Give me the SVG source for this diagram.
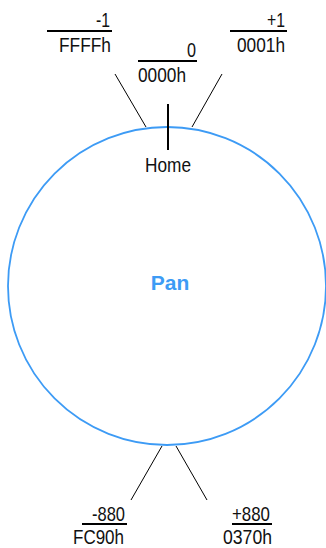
<svg xmlns="http://www.w3.org/2000/svg" width="326" height="548" viewBox="0 0 326 548">
<style>
.t{font-family:"Liberation Sans",Arial,sans-serif;font-size:21px;fill:#111}
.bar{stroke:#000;stroke-width:2}
.lead{stroke:#000;stroke-width:1}
</style>
<rect width="326" height="548" fill="#fff"/>
<g id="pan">
<circle cx="167" cy="286" r="159" fill="none" stroke="#3d9bf5" stroke-width="1.8"/>
<text x="170" y="290" text-anchor="middle" font-family="Liberation Sans,Arial,sans-serif" font-weight="bold" font-size="21" fill="#3d9bf5">Pan</text>
</g>
<g id="home">
<line class="bar" x1="168" y1="104" x2="168" y2="150"/>
<text class="t" x="145" y="172" textLength="46" lengthAdjust="spacingAndGlyphs">Home</text>
</g>
<g id="connectors">
<line class="lead" x1="115" y1="74" x2="146" y2="127"/>
<line class="lead" x1="222" y1="74" x2="192" y2="127"/>
<line class="lead" x1="162" y1="446" x2="131" y2="500"/>
<line class="lead" x1="176" y1="446" x2="207" y2="500"/>
</g>
<g id="m1">
<text class="t" x="96" y="27" textLength="14" lengthAdjust="spacingAndGlyphs">-1</text>
<line class="bar" x1="47" y1="31" x2="112" y2="31"/>
<text class="t" x="59" y="52" textLength="52" lengthAdjust="spacingAndGlyphs">FFFFh</text>
</g>
<g id="zero">
<text class="t" x="187" y="57" textLength="9" lengthAdjust="spacingAndGlyphs">0</text>
<line class="bar" x1="138" y1="61" x2="197" y2="61"/>
<text class="t" x="138" y="82" textLength="48" lengthAdjust="spacingAndGlyphs">0000h</text>
</g>
<g id="p1">
<text class="t" x="267" y="27" textLength="18" lengthAdjust="spacingAndGlyphs">+1</text>
<line class="bar" x1="230" y1="31" x2="287" y2="31"/>
<text class="t" x="237" y="52" textLength="48" lengthAdjust="spacingAndGlyphs">0001h</text>
</g>
<g id="m880">
<text class="t" x="92" y="521" textLength="33" lengthAdjust="spacingAndGlyphs">-880</text>
<line class="bar" x1="82" y1="524" x2="127" y2="524"/>
<text class="t" x="73" y="544" textLength="51" lengthAdjust="spacingAndGlyphs">FC90h</text>
</g>
<g id="p880">
<text class="t" x="232" y="521" textLength="38" lengthAdjust="spacingAndGlyphs">+880</text>
<line class="bar" x1="232" y1="524" x2="272" y2="524"/>
<text class="t" x="223" y="544" textLength="49" lengthAdjust="spacingAndGlyphs">0370h</text>
</g>
</svg>
